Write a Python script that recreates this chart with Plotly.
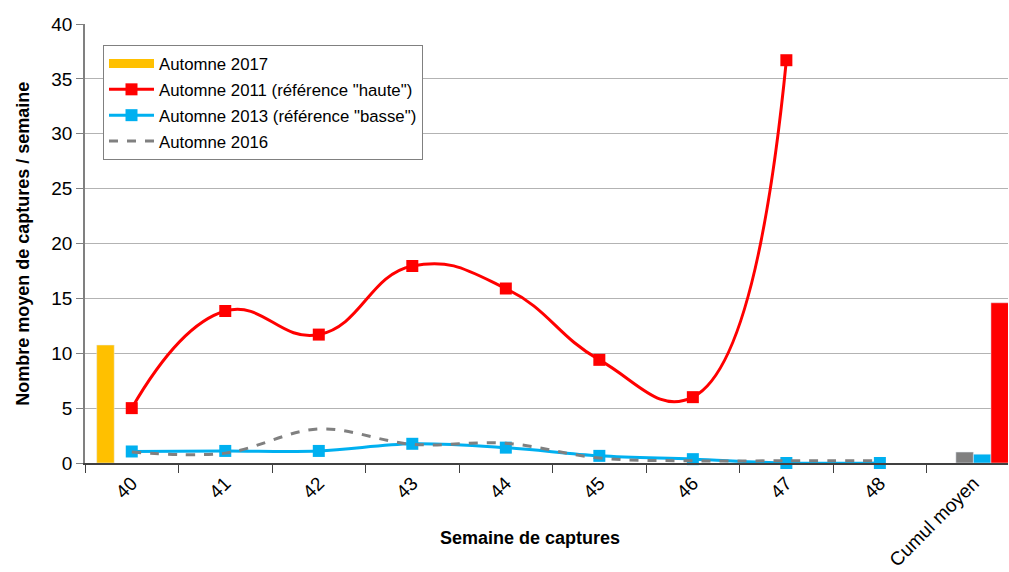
import plotly.graph_objects as go

weeks = ["40", "41", "42", "43", "44", "45", "46", "47", "48", "Cumul moyen"]
line_weeks = weeks[:9]

autumn_2017 = [10.75, None, None, None, None, None, None, None, None, None]
autumn_2011 = [5.0, 13.85, 11.7, 17.95, 15.9, 9.4, 6.0, 36.7, None]
autumn_2013 = [1.05, 1.1, 1.1, 1.75, 1.4, 0.65, 0.35, 0.0, 0.0]
autumn_2016 = [1.0, 0.9, 3.1, 1.7, 1.8, 0.45, 0.2, 0.2, 0.2]

cumul_2016 = 1.0
cumul_2013 = 0.8
cumul_2011 = 14.6

_YELLOW = "#FFC000"
_RED = "#FF0000"
_BLUE = "#00B0F0"
_GREY = "#808080"

FONT = "Liberation Sans, Arial, sans-serif"


def bar_only_cumul(value):
    return [None] * 9 + [value]


fig = go.Figure()

# Bars (grouped: 2017, 2016, 2013, 2011)
fig.add_trace(go.Bar(x=weeks, y=autumn_2017, marker_color=_YELLOW, showlegend=False))
fig.add_trace(go.Bar(x=weeks, y=bar_only_cumul(cumul_2016), marker_color=_GREY, showlegend=False))
fig.add_trace(go.Bar(x=weeks, y=bar_only_cumul(cumul_2013), marker_color=_BLUE, showlegend=False))
fig.add_trace(go.Bar(x=weeks, y=bar_only_cumul(cumul_2011), marker_color=_RED, showlegend=False))

# legend entry for the 2017 bars, drawn as a thick strip like the original
fig.add_trace(go.Scatter(
    name="Automne 2017", x=[None], y=[None], mode="lines",
    line={"color": _YELLOW, "width": 9}, legendgroup="a", legendrank=1,
))

# Smoothed lines
fig.add_trace(go.Scatter(
    name='Automne 2011 (référence "haute")', x=line_weeks, y=autumn_2011,
    mode="lines+markers", line={"color": _RED, "width": 3, "shape": "spline", "smoothing": 1.3},
    marker={"symbol": "square", "size": 12, "color": _RED}, legendgroup="b", legendrank=2,
    cliponaxis=False,
))
fig.add_trace(go.Scatter(
    name='Automne 2013 (référence "basse")', x=line_weeks, y=autumn_2013,
    mode="lines+markers", line={"color": _BLUE, "width": 3, "shape": "spline", "smoothing": 1},
    marker={"symbol": "square", "size": 12, "color": _BLUE}, legendgroup="c", legendrank=3,
    cliponaxis=False,
))
fig.add_trace(go.Scatter(
    name="Automne 2016", x=line_weeks, y=autumn_2016,
    mode="lines", line={"color": _GREY, "width": 3, "dash": "dash", "shape": "spline", "smoothing": 1},
    legendgroup="d", legendrank=4,
))

fig.update_layout(
    width=1009,
    height=572,
    margin={"l": 85, "r": 1, "t": 24, "b": 109},
    paper_bgcolor="white",
    plot_bgcolor="white",
    barmode="group",
    bargap=0.25,
    bargroupgap=0,
    font={"family": FONT, "size": 18, "color": "black"},
    showlegend=True,
    legend={
        "x": 0.0195, "y": 0.952, "xanchor": "left", "yanchor": "top",
        "bgcolor": "white", "bordercolor": "#808080", "borderwidth": 1,
        "font": {"size": 16.8, "family": FONT},
        "traceorder": "grouped",
        "tracegroupgap": 1,
        "itemwidth": 45,
    },
    xaxis={
        "type": "category",
        "range": [-0.5, 9.37],
        "automargin": False,
        "tickson": "boundaries",
        "ticks": "outside",
        "ticklen": 8,
        "tickcolor": "#404040",
        "tickangle": -45,
        "showline": True,
        "linecolor": "#404040",
        "linewidth": 1.5,
        "showgrid": False,
        "tickfont": {"size": 19},
    },
    yaxis={
        "range": [0, 40],
        "dtick": 5,
        "automargin": False,
        "ticks": "outside",
        "ticklen": 7,
        "tickcolor": "#808080",
        "showline": True,
        "linecolor": "#808080",
        "linewidth": 1.5,
        "showgrid": True,
        "gridcolor": "#B3B3B3",
        "gridwidth": 1,
        "zeroline": False,
        "tickfont": {"size": 19},
    },
    annotations=[
        {
            "text": "<b>Semaine de captures</b>", "xref": "paper", "yref": "paper",
            "x": 0.482, "y": -0.171, "xanchor": "center", "yanchor": "middle",
            "showarrow": False, "font": {"size": 18},
        },
        {
            "text": "<b>Nombre moyen de captures / semaine</b>", "xref": "paper", "yref": "paper",
            "x": -0.068, "y": 0.5, "xanchor": "center", "yanchor": "middle", "textangle": -90,
            "showarrow": False, "font": {"size": 18},
        },
    ],
)

# the page's default body margin would shift the figure by 8px
fig.write_html(
    "out.html",
    config={"displayModeBar": False},
    post_script="document.body.style.margin = '0';",
)
